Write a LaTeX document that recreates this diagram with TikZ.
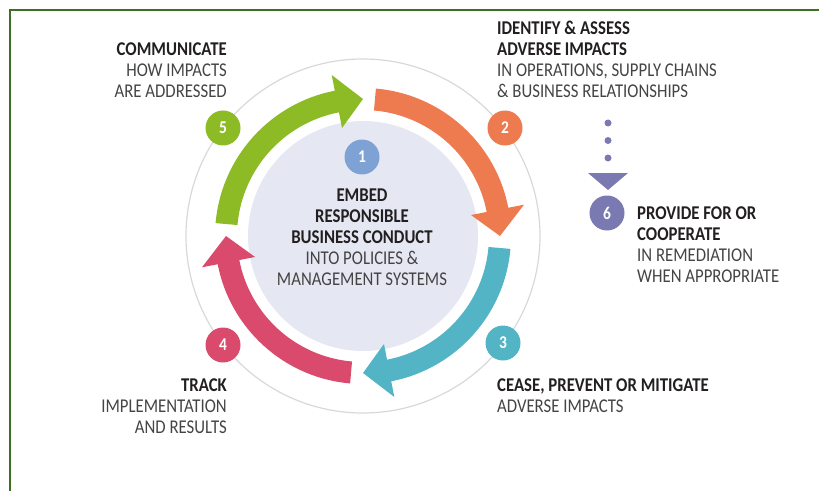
\documentclass[tikz,border=0pt]{standalone}
\usepackage{fontspec}
\setmainfont[FakeStretch=0.86]{Carlito}
\usetikzlibrary{positioning}
\definecolor{framegreen}{HTML}{3F6E26}
\definecolor{stepgreen}{HTML}{8DBB26}
\definecolor{steporange}{HTML}{EE7A50}
\definecolor{stepteal}{HTML}{52B4C5}
\definecolor{steppink}{HTML}{D94A6C}
\definecolor{stepblue}{HTML}{7FA2D5}
\definecolor{steppurple}{HTML}{7B79B1}
\definecolor{hubfill}{HTML}{E5E8F3}
\definecolor{ringgray}{HTML}{D8D8D8}
\definecolor{textdark}{HTML}{231F20}
\definecolor{textgray}{HTML}{444444}

\begin{document}
\begin{tikzpicture}[x=1pt,y=1pt, badge/.style={circle,fill=#1,text=white,font=\fontsize{18}{18}\selectfont\bfseries, minimum size=35pt, inner sep=0pt}, caption/.style={font=\fontsize{19.5}{21}\selectfont, text=textgray, inner sep=0pt}]
  \useasboundingbox (0,0) rectangle (819,491);
  \draw[framegreen, line width=2pt] (10,0) -- (10,481) -- (819,481);

  \node[circle, draw=ringgray, line width=1.2pt, minimum size=354pt] (ring) at (363,255) {};
  \node[circle, fill=hubfill, minimum size=230pt] (hub) at (363,255) {};

  % the four arc arrows, clockwise
  \begin{scope}[shift={(hub.center)}]
    \foreach \a/\c in {175/stepgreen, 85/steporange, -5/stepteal, -95/steppink}
      \fill[\c] (\a:148) arc[start angle=\a, end angle=\a-74, radius=148pt] -- (\a-74:164) -- (\a-85:137) -- (\a-74:110) -- (\a-74:126) arc[start angle=\a-74, end angle=\a, radius=126pt] -- cycle;
  \end{scope}

  \node[badge=stepblue] (1) at (362,334) {1};
  \node[badge=steporange] (2) at (505,363) {2};
  \node[badge=stepteal] (3) at (503,148) {3};
  \node[badge=steppink] (4) at (223,146) {4};
  \node[badge=stepgreen] (5) at (223,363) {5};
  \node[badge=steppurple] (6) at (607,278) {6};

  \node[caption, align=center, anchor=north] (embed) at (362,302) {{\color{textdark}\bfseries EMBED}\\{\color{textdark}\bfseries RESPONSIBLE}\\{\color{textdark}\bfseries BUSINESS CONDUCT}\\INTO POLICIES \&\\MANAGEMENT SYSTEMS};
  \node[caption, align=left, anchor=north west] (identify) at (497,470) {{\color{textdark}\bfseries IDENTIFY \& ASSESS}\\{\color{textdark}\bfseries ADVERSE IMPACTS}\\IN OPERATIONS, SUPPLY CHAINS\\\& BUSINESS RELATIONSHIPS};
  \node[caption, align=left, anchor=north west] (cease) at (497,112) {{\color{textdark}\bfseries CEASE, PREVENT OR MITIGATE}\\ADVERSE IMPACTS};
  \node[caption, align=right, anchor=north east] (track) at (227,112) {{\color{textdark}\bfseries TRACK}\\IMPLEMENTATION\\AND RESULTS};
  \node[caption, align=right, anchor=north east] (communicate) at (227,448) {{\color{textdark}\bfseries COMMUNICATE}\\HOW IMPACTS\\ARE ADDRESSED};
  \node[caption, align=left, anchor=north west] (provide) at (637,284) {{\color{textdark}\bfseries PROVIDE FOR OR}\\{\color{textdark}\bfseries COOPERATE}\\IN REMEDIATION\\WHEN APPROPRIATE};

  % dotted link down to step 6
  \coordinate (dtop) at (608,368);
  \coordinate (tri) at (608,318);
  \draw[steppurple, line width=7pt, line cap=round, dash pattern=on 0pt off 17.5pt] (dtop) -- (tri);
  \fill[steppurple] (tri) ++(-20,0) -- ++(40,0) -- ++(-20,-17) -- cycle;
\end{tikzpicture}
\end{document}
